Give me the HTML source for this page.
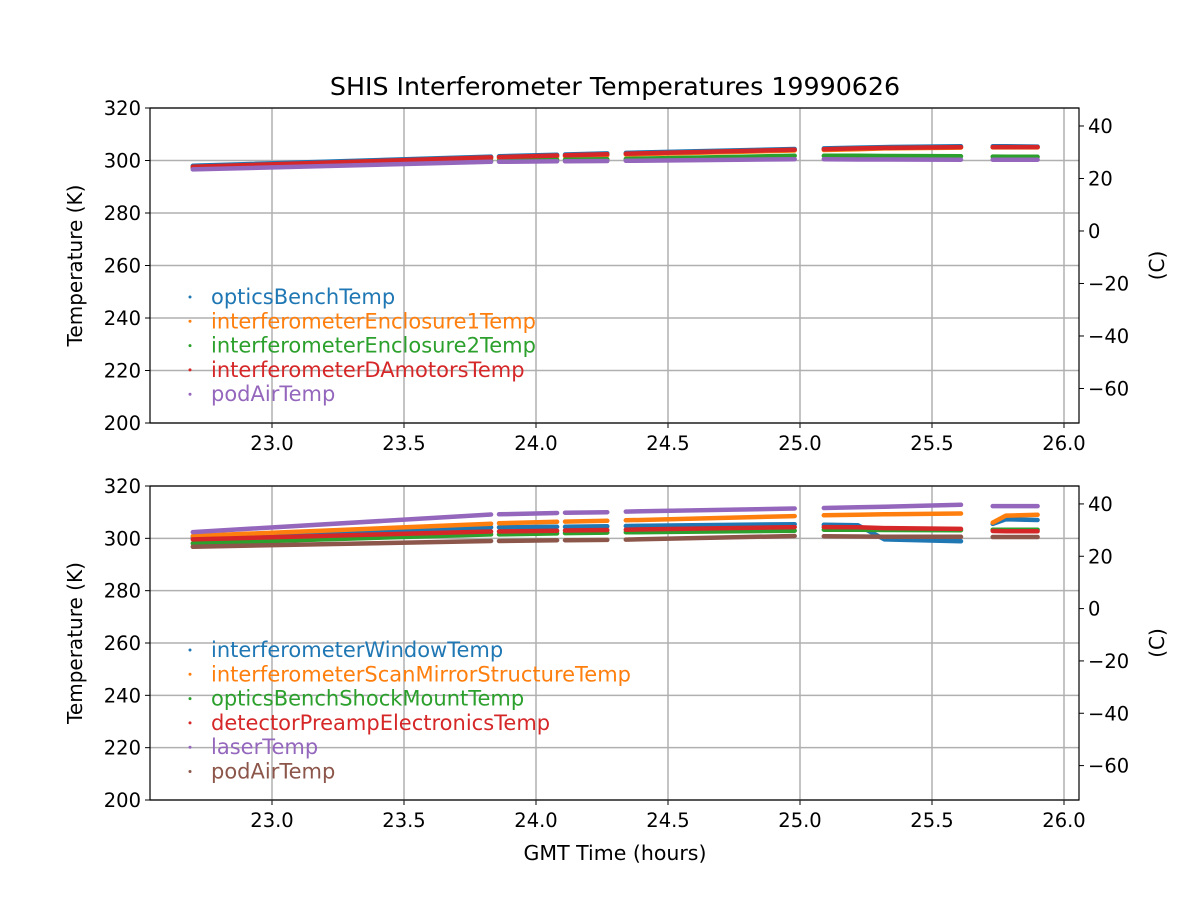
<!DOCTYPE html>
<html><head><meta charset="utf-8"><style>
body{margin:0;background:#fff}
svg text{font-family:"DejaVu Sans","Liberation Sans",sans-serif;fill:#000}
</style></head><body>
<svg id="fig" width="1200" height="900" xmlns="http://www.w3.org/2000/svg">
<rect width="1200" height="900" fill="#fff"/>
<text x="615" y="95" font-size="25.3" text-anchor="middle">SHIS Interferometer Temperatures 19990626</text>
<text x="615" y="860" font-size="20.5" text-anchor="middle">GMT Time (hours)</text>
</svg>
<script>
const times = [22.70,23.83,23.86,24.08,24.11,24.27,24.34,24.98,25.09,25.22,25.32,25.61,25.73,25.78,25.90];
const segments = [0,0,1,1,2,2,3,3,4,4,4,4,5,5,5];
const xTicks = [23.0,23.5,24.0,24.5,25.0,25.5,26.0];
const yTicks = [200,220,240,260,280,300,320];
const cTicks = [-60,-40,-20,0,20,40];
const topNames = ["opticsBenchTemp","interferometerEnclosure1Temp","interferometerEnclosure2Temp","interferometerDAmotorsTemp","podAirTemp"];
const topOptics = [298.0,301.5,301.6,302.2,302.3,302.7,302.9,304.4,304.6,304.9,305.1,305.4,305.4,305.4,305.3];
const topEncl1 = [297.5,300.8,300.9,301.5,301.6,302.0,302.3,303.8,304.0,304.3,304.6,304.9,305.0,305.0,305.0];
const topEncl2 = [297.2,299.8,299.9,300.3,300.3,300.5,300.6,301.8,301.8,301.8,301.7,301.6,301.5,301.4,301.4];
const topDAm = [297.6,301.2,301.3,301.9,302.0,302.4,302.6,304.1,304.3,304.6,304.8,305.1,305.1,305.1,305.1];
const topPod = [296.6,299.5,299.5,299.7,299.7,299.8,299.9,300.5,300.5,300.4,300.4,300.3,300.3,300.3,300.3];
const botNames = ["interferometerWindowTemp","interferometerScanMirrorStructureTemp","opticsBenchShockMountTemp","detectorPreampElectronicsTemp","laserTemp","podAirTemp"];
const botWindow = [300.4,304.2,304.2,304.4,304.4,304.6,304.7,305.4,305.2,305.0,299.6,298.9,305.5,307.3,307.0];
const botScan = [300.9,305.6,305.8,306.3,306.4,306.7,306.9,308.5,308.8,309.0,309.2,309.5,306.0,308.7,309.0];
const botShock = [298.1,301.5,301.5,301.9,302.0,302.2,302.3,302.9,303.3,303.3,303.2,303.1,303.3,303.3,303.3];
const botPreamp = [299.6,302.6,302.6,302.9,303.0,303.2,303.3,304.3,304.3,304.2,303.9,303.6,302.8,302.7,302.7];
const botLaser = [302.4,309.1,309.2,309.7,309.8,310.0,310.2,311.4,311.6,311.9,312.1,312.8,312.3,312.3,312.3];
const botPod = [296.8,299.0,299.0,299.3,299.3,299.4,299.5,300.9,300.8,300.7,300.6,300.6,300.5,300.5,300.5];
const colors = ["#1f77b4","#ff7f0e","#2ca02c","#d62728","#9467bd","#8c564b"];

const NS="http://www.w3.org/2000/svg";
const svg=document.getElementById('fig');
function mk(tag,attrs,parent){const e=document.createElementNS(NS,tag);for(const k in attrs)e.setAttribute(k,attrs[k]);(parent||svg).appendChild(e);return e;}
const L=150,R=1079;
const xs=t=>272+(t-23.0)*264;
function panel(top,bottom,series,names,pname){
  const ys=v=>bottom-(v-200)/120*(bottom-top);
  const g=mk('g',{});
  
  
  xTicks.forEach(t=>{const x=xs(t);
    const l=mk('line',{x1:x,x2:x,y1:top,y2:bottom,stroke:'#b0b0b0','stroke-width':1.5},g);
    
    mk('line',{x1:x,x2:x,y1:bottom,y2:bottom+5,stroke:'#000'},g);
    const tx=mk('text',{x:x,y:bottom+27,'font-size':19.5,'text-anchor':'middle'},g);tx.textContent=t.toFixed(1);
    });
  yTicks.forEach(v=>{const y=ys(v);
    const l=mk('line',{x1:L,x2:R,y1:y,y2:y,stroke:'#b0b0b0','stroke-width':1.5},g);
    
    mk('line',{x1:L-5,x2:L,y1:y,y2:y,stroke:'#000'},g);
    const tx=mk('text',{x:L-9,y:y+7,'font-size':19.5,'text-anchor':'end'},g);tx.textContent=v;
    });
  cTicks.forEach(c=>{const y=ys(c+273.15);
    mk('line',{x1:R,x2:R+5,y1:y,y2:y,stroke:'#000'},g);
    const tx=mk('text',{x:R+9,y:y+7,'font-size':19.5},g);tx.textContent=c<0?'\u2212'+(-c):c;
    });
  series.forEach((vals,i)=>{
    let pts=[],segs=[];
    times.forEach((t,j)=>{if(j>0&&segments[j]!==segments[j-1]){segs.push(pts);pts=[];}pts.push(xs(t).toFixed(1)+','+ys(vals[j]).toFixed(1));});
    segs.push(pts);
    segs.forEach(p=>{const pl=mk('polyline',{points:p.join(' '),fill:'none',stroke:colors[i],'stroke-width':4.5,'stroke-linecap':'round','stroke-linejoin':'round'},g);
      });
  });
  const fr=mk('rect',{x:L,y:top,width:R-L,height:bottom-top,fill:'none',stroke:'#000','stroke-width':1.2},g);
  
  const yl=mk('text',{x:0,y:0,'font-size':20,'text-anchor':'middle',transform:`translate(82,${(top+bottom)/2}) rotate(-90)`},g);
  yl.textContent='Temperature (K)';
  const cl=mk('text',{x:0,y:0,'font-size':20,'text-anchor':'middle',transform:`translate(1164,${(top+bottom)/2}) rotate(-90)`},g);
  cl.textContent='(C)';
  const legTop=bottom-126-(names.length-5)*24;
  names.forEach((n,i)=>{const y=legTop+i*24.3;
    mk('circle',{cx:190,cy:y,r:1.5,fill:colors[i]},g);
    const tx=mk('text',{x:211,y:y+7,'font-size':21,style:'fill:'+colors[i]},g);tx.textContent=n;
    });
}
panel(108,423,[topOptics,topEncl1,topEncl2,topDAm,topPod],topNames,'top-panel');
panel(486,800,[botWindow,botScan,botShock,botPreamp,botLaser,botPod],botNames,'bottom-panel');
</script>
</body></html>
